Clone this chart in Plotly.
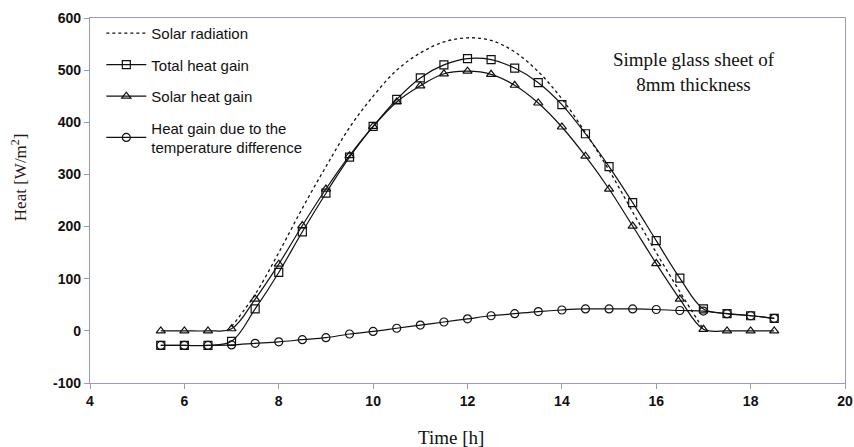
import plotly.graph_objects as go

time_h = [5.5, 6, 6.5, 7, 7.5, 8, 8.5, 9, 9.5, 10, 10.5, 11, 11.5, 12, 12.5,
          13, 13.5, 14, 14.5, 15, 15.5, 16, 16.5, 17, 17.5, 18, 18.5]

solar_time = [7, 7.5, 8, 8.5, 9, 9.5, 10, 10.5, 11, 11.5, 12, 12.5, 13, 13.5,
              14, 14.5, 15, 15.5, 16, 16.5, 17]
solar_radiation = [8, 70, 150, 235, 315, 390, 450, 500, 533, 554, 562, 557,
                   535, 497, 445, 380, 308, 228, 150, 75, 3]

total_gain = [-28, -28, -28, -20, 42, 112, 190, 264, 333, 392, 444, 485, 510,
              522, 520, 504, 476, 434, 378, 315, 246, 173, 101, 42, 33, 29, 24]

solar_gain = [0, 0, 0, 4, 61, 128, 202, 272, 336, 392, 439, 470, 493, 498,
              492, 471, 437, 391, 335, 272, 201, 129, 61, 3, 0, 0, 0]

temp_gain = [-28, -28, -28, -27, -24, -21, -17, -13, -6, -1, 5, 11, 17, 23,
             29, 33, 37, 40, 42, 42, 42, 41, 39, 38, 33, 29, 24]

x_ticks = [4, 6, 8, 10, 12, 14, 16, 18, 20]
y_ticks = [-100, 0, 100, 200, 300, 400, 500, 600]

black = "#111111"
fig = go.Figure()

fig.add_trace(go.Scatter(
    x=solar_time, y=solar_radiation, mode="lines", name="Solar radiation",
    line=dict(color=black, width=1.3, dash="dot", shape="spline", smoothing=1),
    legendgroup="a"))

fig.add_trace(go.Scatter(
    x=time_h, y=total_gain, mode="lines+markers", name="Total heat gain",
    line=dict(color=black, width=1.2, shape="spline", smoothing=1),
    marker=dict(symbol="square-open", size=8, color=black, line=dict(width=1.2)),
    legendgroup="b"))

fig.add_trace(go.Scatter(
    x=time_h, y=solar_gain, mode="lines+markers", name="Solar heat gain",
    line=dict(color=black, width=1.2, shape="spline", smoothing=1),
    marker=dict(symbol="triangle-up-open", size=8, color=black, line=dict(width=1.2)),
    legendgroup="c"))

fig.add_trace(go.Scatter(
    x=time_h, y=temp_gain, mode="lines+markers",
    name="Heat gain due to the<br>temperature difference",
    line=dict(color=black, width=1.2, shape="spline", smoothing=1),
    marker=dict(symbol="circle-open", size=8, color=black, line=dict(width=1.2)),
    legendgroup="d"))

axis_color = "#9c99b3"
tick_font = dict(family="Liberation Sans", size=14, color="#111111")
fig.update_xaxes(
    range=[4, 20], tickvals=x_ticks, ticktext=[f"<b>{v}</b>" for v in x_ticks],
    ticks="outside", ticklen=5,
    tickcolor=axis_color, showline=True, linecolor=axis_color, linewidth=1.2,
    mirror=True, showgrid=False, zeroline=False, automargin=False,
    tickfont=tick_font)
fig.update_yaxes(
    range=[-100, 600], tickvals=y_ticks, ticktext=[f"<b>{v}</b>" for v in y_ticks],
    ticks="outside", ticklen=5,
    tickcolor=axis_color, showline=True, linecolor=axis_color, linewidth=1.2,
    mirror=True, showgrid=False, zeroline=False, automargin=False,
    tickfont=tick_font)

fig.add_annotation(
    x=0.478, y=-0.148, xref="paper", yref="paper", showarrow=False,
    xanchor="center", yanchor="middle", text="Time [h]",
    font=dict(family="Liberation Serif", size=19, color="#111111"))

fig.add_annotation(
    x=-0.094, y=0.564, xref="paper", yref="paper", showarrow=False,
    xanchor="center", yanchor="middle", textangle=-90,
    text="Heat [W/m<sup>2</sup>]",
    font=dict(family="Liberation Serif", size=17, color="#2b1616"))

fig.add_annotation(
    x=0.80, y=0.852, xref="paper", yref="paper", showarrow=False,
    xanchor="center", yanchor="middle",
    text="Simple glass sheet of<br>8mm thickness", align="center",
    font=dict(family="Liberation Serif", size=19, color="#111111"))

fig.update_layout(
    width=854, height=447,
    margin=dict(l=90, r=9, t=18, b=64, autoexpand=False),
    paper_bgcolor="white", plot_bgcolor="white",
    showlegend=True,
    legend=dict(x=0.015, y=1.003, xanchor="left", yanchor="top",
                bgcolor="rgba(0,0,0,0)", tracegroupgap=9, itemwidth=40,
                font=dict(family="Liberation Sans", size=15, color="#111111")),
)

fig.write_html("out.html")
